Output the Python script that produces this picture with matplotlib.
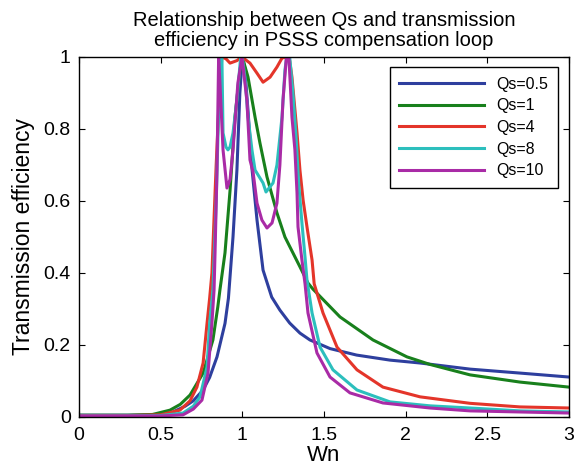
import matplotlib
matplotlib.use("Agg")
import matplotlib.pyplot as plt

plt.rcParams['font.family'] = ['Liberation Sans', 'DejaVu Sans']

# ---- data ----
x_q05 = [0, 0.3, 0.5, 0.557, 0.65, 0.70, 0.76, 0.80, 0.845, 0.894, 0.915, 0.943, 0.967, 0.985, 1.0, 1.015,
         1.035, 1.06, 1.09, 1.127, 1.18, 1.23, 1.29, 1.353, 1.414, 1.537, 1.70, 1.904, 2.088, 2.394, 2.70, 3.0]
y_q05 = [0.005, 0.005, 0.006, 0.01, 0.03, 0.045, 0.075, 0.11, 0.167, 0.26, 0.33, 0.5, 0.686, 0.9, 1.0, 0.97,
         0.85, 0.686, 0.547, 0.408, 0.333, 0.297, 0.261, 0.233, 0.214, 0.19, 0.172, 0.158, 0.15, 0.133, 0.122, 0.111]

x_q1 = [0, 0.3, 0.45, 0.557, 0.62, 0.68, 0.76, 0.82, 0.85, 0.863, 0.894, 0.925, 0.955, 0.986, 1.0, 1.035,
        1.078, 1.108, 1.151, 1.212, 1.261, 1.292, 1.353, 1.402, 1.433, 1.598, 1.80, 2.008, 2.149, 2.394, 2.70, 3.0]
y_q1 = [0.005, 0.005, 0.007, 0.019, 0.035, 0.061, 0.122, 0.214, 0.306, 0.353, 0.456, 0.63, 0.833, 0.964, 1.0, 0.944,
        0.833, 0.761, 0.667, 0.567, 0.5, 0.472, 0.417, 0.372, 0.355, 0.278, 0.214, 0.167, 0.146, 0.117, 0.097, 0.083]

x_q4 = [0, 0.3, 0.5, 0.618, 0.68, 0.722, 0.76, 0.784, 0.80, 0.814, 0.825, 0.84, 0.86, 0.875, 0.90, 0.925, 0.967,
        0.998, 1.047, 1.09, 1.127, 1.17, 1.212, 1.243, 1.27, 1.29, 1.304, 1.335, 1.353, 1.372, 1.396, 1.427,
        1.44, 1.494, 1.58, 1.702, 1.861, 2.088, 2.394, 2.70, 3.0]
y_q4 = [0.004, 0.004, 0.006, 0.019, 0.045, 0.083, 0.15, 0.26, 0.33, 0.40, 0.53, 0.70, 0.90, 1.0, 0.995, 0.983, 0.99,
        1.0, 0.983, 0.955, 0.93, 0.944, 0.972, 0.997, 1.0, 0.99, 0.944, 0.789, 0.685, 0.603, 0.528, 0.436,
        0.37, 0.289, 0.194, 0.131, 0.083, 0.056, 0.038, 0.028, 0.025]

x_q8 = [0, 0.3, 0.5, 0.637, 0.70, 0.741, 0.784, 0.80, 0.82, 0.84, 0.855, 0.865, 0.875, 0.882, 0.90, 0.912, 0.925,
        0.943, 0.967, 0.99, 1.0, 1.016, 1.035, 1.059, 1.078, 1.127, 1.145, 1.188, 1.212, 1.243, 1.261, 1.272,
        1.29, 1.31, 1.33, 1.345, 1.365, 1.384, 1.396, 1.427, 1.476, 1.555, 1.702, 1.904, 2.149, 2.394, 2.70, 3.0]
y_q8 = [0.003, 0.003, 0.004, 0.011, 0.03, 0.056, 0.139, 0.261, 0.353, 0.6, 0.85, 1.0, 1.0, 0.789, 0.75, 0.742, 0.75,
        0.789, 0.88, 1.0, 1.0, 0.944, 0.833, 0.742, 0.686, 0.65, 0.625, 0.65, 0.70, 0.833, 0.964, 1.0,
        1.0, 0.9, 0.77, 0.65, 0.539, 0.444, 0.38, 0.289, 0.194, 0.131, 0.075, 0.042, 0.031, 0.025, 0.017, 0.014]

x_q10 = [0, 0.3, 0.5, 0.637, 0.70, 0.753, 0.79, 0.814, 0.827, 0.833, 0.845, 0.855, 0.863, 0.882, 0.906, 0.925,
         0.943, 0.973, 0.998, 1.028, 1.047, 1.066, 1.09, 1.12, 1.151, 1.182, 1.212, 1.23, 1.249, 1.27, 1.285,
         1.304, 1.322, 1.335, 1.341, 1.365, 1.384, 1.402, 1.457, 1.537, 1.659, 1.861, 2.149, 2.394, 3.0]
y_q10 = [0.003, 0.003, 0.003, 0.006, 0.022, 0.047, 0.122, 0.261, 0.353, 0.456, 0.686, 1.0, 0.928, 0.742, 0.636, 0.66,
         0.742, 0.928, 1.0, 0.88, 0.714, 0.68, 0.594, 0.547, 0.525, 0.539, 0.594, 0.70, 0.88, 1.0, 1.0,
         0.833, 0.742, 0.622, 0.528, 0.436, 0.37, 0.289, 0.178, 0.111, 0.067, 0.039, 0.025, 0.017, 0.011]

series = [
    ("Qs=0.5", x_q05, y_q05, "#2e3f9e"),
    ("Qs=1", x_q1, y_q1, "#18801c"),
    ("Qs=4", x_q4, y_q4, "#e4352a"),
    ("Qs=8", x_q8, y_q8, "#2cbfbd"),
    ("Qs=10", x_q10, y_q10, "#a92ba6"),
]

xticks = [0, 0.5, 1, 1.5, 2, 2.5, 3]
xticklabels = ["0", "0.5", "1", "1.5", "2", "2.5", "3"]
yticks = [0, 0.2, 0.4, 0.6, 0.8, 1]
yticklabels = ["0", "0.2", "0.4", "0.6", "0.8", "1"]

fig = plt.figure(figsize=(5.79, 4.73), dpi=100)
ax = fig.add_axes([0.1364, 0.1184, 0.8463, 0.7611])

for label, xs, ys, c in series:
    ax.plot(xs, ys, color=c, lw=2.2, label=label)

ax.set_xlim(0, 3)
ax.set_ylim(0, 1)
ax.set_xticks(xticks)
ax.set_xticklabels(xticklabels)
ax.set_yticks(yticks)
ax.set_yticklabels(yticklabels)
ax.tick_params(direction='in', length=4, width=0.8, labelsize=14, top=True, right=True)
ax.tick_params(axis='x', pad=7)
ax.tick_params(axis='y', pad=6)
for s in ax.spines.values():
    s.set_linewidth(1.0)

ax.set_xlabel("Wn", fontsize=16, labelpad=1)
ax.set_ylabel("Transmission efficiency", fontsize=16.5, labelpad=6)
ax.set_title("Relationship between Qs and transmission\nefficiency in PSSS compensation loop",
             fontsize=14.5, pad=8, linespacing=1.05)

leg = ax.legend(loc='upper right', bbox_to_anchor=(0.978, 0.972), borderaxespad=0,
                fontsize=11.5, handlelength=5.3, labelspacing=0.42, fancybox=False,
                edgecolor='black', framealpha=1, borderpad=0.6, handletextpad=0.8)
leg.get_frame().set_linewidth(1.0)

fig.savefig("out.png", dpi=100)
